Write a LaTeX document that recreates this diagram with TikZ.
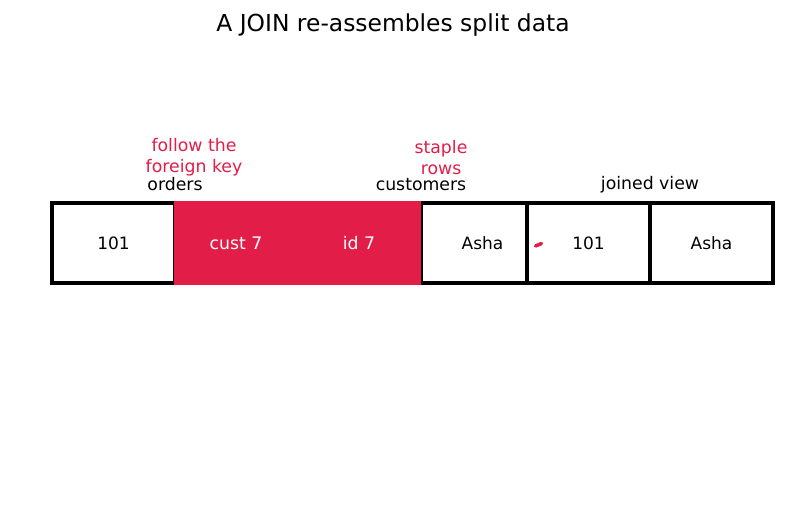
\documentclass[tikz,border=0pt]{standalone}
\usepackage{fontspec}
\setmainfont{DejaVu Sans}
\definecolor{accent}{RGB}{225,29,72}
\begin{document}
\begin{tikzpicture}[x=1pt,y=-1pt,
  cell/.style={draw=black,line width=4.2pt,fill=white,minimum width=123pt,minimum height=80pt,inner sep=0pt,font=\fontsize{17}{20}\selectfont,text=black},
  hot/.style={fill=accent,minimum width=124pt,minimum height=84pt,inner sep=0pt,font=\fontsize{17.3}{20}\selectfont,text=white},
  lab/.style={font=\fontsize{17.3}{20}\selectfont,text=black,inner sep=0pt},
  note/.style={font=\fontsize{17.3}{21}\selectfont,text=accent,inner sep=0pt,align=center}]
\useasboundingbox (0,0) rectangle (787,510);
\node[font=\fontsize{23.4}{27}\selectfont,inner sep=0pt] (title) at (393,25) {A JOIN re-assembles split data};
% orders
\node[cell] (o1) at (113.5,243) {101};
\node[cell] (o2) at (236.5,243) {};
% customers
\node[cell] (c1) at (359.5,243) {};
\node[cell] (c2) at (482.5,243) {Asha};
% highlighted key cells
\node[hot] (h1) at (236,243) {cust 7};
\node[hot] (h2) at (359,243) {id 7};
% joined view
\node[cell] (j1) at (588.5,243) {101};
\node[cell] (j2) at (711.5,243) {Asha};
% labels
\node[lab] (lo) at (175,184.5) {orders};
\node[lab] (lc) at (421,184.5) {customers};
\node[lab] (lj) at (650,184.5) {joined view};
\node[note] (n1) at (194,157.5) {follow the\\foreign key};
\node[note] (n2) at (441,157.5) {staple\\rows};
\coordinate (a1) at (535.5,246);
\coordinate (a2) at (541.5,243.5);
\draw[accent,line width=3.5pt,line cap=round] (a1) -- (a2);
\end{tikzpicture}
\end{document}
